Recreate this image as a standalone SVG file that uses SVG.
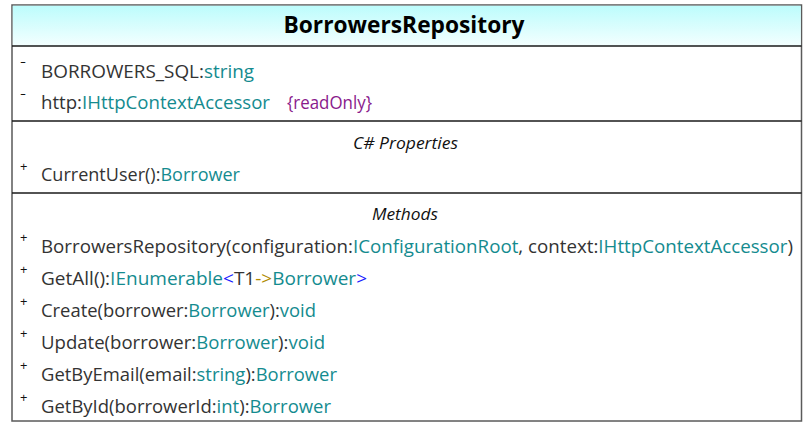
<svg xmlns="http://www.w3.org/2000/svg" width="812" height="426" viewBox="0 0 812 426">
<defs>
<linearGradient id="hdr" x1="0" y1="0" x2="0" y2="1">
<stop offset="0" stop-color="#bcfcfc"/>
<stop offset="1" stop-color="#f4ffff"/>
</linearGradient>
</defs>
<style>
text{font-family:"Open Sans","Noto Sans","DejaVu Sans",sans-serif;fill:#333333;}
.m{font-size:18px;}
.t{fill:#148b8f;}
.ro{fill:#8a1a8c;}
.bl{fill:#1a1aff;}
.ar{fill:#b08a00;}
.v{font-size:13px;fill:#111;}
.sec{font-size:17px;font-style:italic;fill:#111;}
.title{font-size:23px;font-weight:bold;fill:#000;}
.div{stroke:#1a1a1a;stroke-width:1.3;}
</style>
<rect width="812" height="426" fill="#ffffff"/>
<g id="BorrowersRepository">
<rect x="12" y="5" width="789.5" height="416" fill="#ffffff" stroke="#5a5a5a" stroke-width="1.5"/>
<rect x="12.75" y="5.75" width="788" height="40.25" fill="url(#hdr)"/>
<text class="title" x="404" y="32.5" text-anchor="middle" textLength="241" lengthAdjust="spacingAndGlyphs">BorrowersRepository</text>
<line class="div" x1="12" y1="46" x2="801.5" y2="46"/>
<line class="div" x1="12" y1="121" x2="801.5" y2="121"/>
<line class="div" x1="12" y1="193" x2="801.5" y2="193"/>
<g id="attributes">
<text class="v" x="20" y="66" textLength="6" lengthAdjust="spacingAndGlyphs">-</text>
<text class="m" x="41" y="77.5" textLength="213" lengthAdjust="spacingAndGlyphs">BORROWERS_SQL:<tspan class="t">string</tspan></text>
<text class="v" x="20" y="98" textLength="6" lengthAdjust="spacingAndGlyphs">-</text>
<text class="m" x="41" y="108.5" textLength="229" lengthAdjust="spacingAndGlyphs">http:<tspan class="t">IHttpContextAccessor</tspan></text>
<text class="m ro" x="287" y="108.5" textLength="85" lengthAdjust="spacingAndGlyphs">{readOnly}</text>
</g>
<g id="properties">
<text class="sec" x="405.5" y="149" text-anchor="middle" textLength="105" lengthAdjust="spacingAndGlyphs">C# Properties</text>
<text class="v" x="20" y="171">+</text>
<text class="m" x="41" y="180.5" textLength="199" lengthAdjust="spacingAndGlyphs">CurrentUser():<tspan class="t">Borrower</tspan></text>
</g>
<g id="methods">
<text class="sec" x="405" y="220" text-anchor="middle" textLength="66" lengthAdjust="spacingAndGlyphs">Methods</text>
<text class="v" x="20" y="242">+</text>
<text class="m" x="41" y="252.5" textLength="752" lengthAdjust="spacingAndGlyphs">BorrowersRepository(configuration:<tspan class="t">IConfigurationRoot</tspan>, context:<tspan class="t">IHttpContextAccessor</tspan>)</text>
<text class="v" x="20" y="274">+</text>
<text class="m" x="41" y="284.5" textLength="326" lengthAdjust="spacingAndGlyphs">GetAll():<tspan class="t">IEnumerable</tspan><tspan class="bl">&lt;</tspan>T1<tspan class="ar">-&gt;</tspan><tspan class="t">Borrower</tspan><tspan class="bl">&gt;</tspan></text>
<text class="v" x="20" y="306">+</text>
<text class="m" x="41" y="316.5" textLength="275" lengthAdjust="spacingAndGlyphs">Create(borrower:<tspan class="t">Borrower</tspan>):<tspan class="t">void</tspan></text>
<text class="v" x="20" y="338">+</text>
<text class="m" x="41" y="348.5" textLength="284" lengthAdjust="spacingAndGlyphs">Update(borrower:<tspan class="t">Borrower</tspan>):<tspan class="t">void</tspan></text>
<text class="v" x="20" y="370">+</text>
<text class="m" x="41" y="380.5" textLength="296" lengthAdjust="spacingAndGlyphs">GetByEmail(email:<tspan class="t">string</tspan>):<tspan class="t">Borrower</tspan></text>
<text class="v" x="20" y="402">+</text>
<text class="m" x="41" y="412.5" textLength="290" lengthAdjust="spacingAndGlyphs">GetById(borrowerId:<tspan class="t">int</tspan>):<tspan class="t">Borrower</tspan></text>
</g>
</g>
<g id="connectors"/>
</svg>
